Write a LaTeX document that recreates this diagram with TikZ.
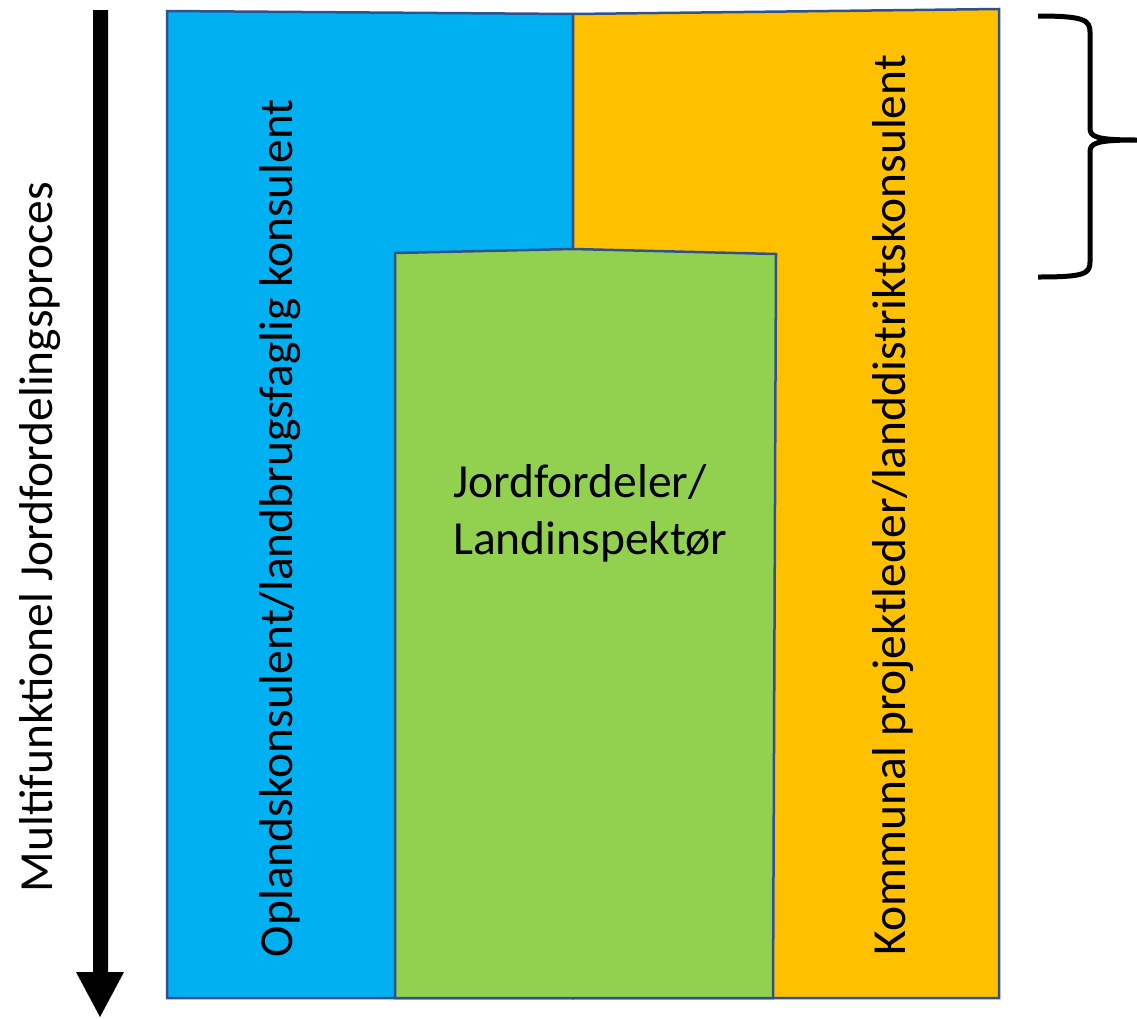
\documentclass[tikz,border=0pt]{standalone}
\usepackage{fontspec}
\setmainfont{Carlito}
\definecolor{cblue}{HTML}{00B0F0}
\definecolor{corange}{HTML}{FFC000}
\definecolor{cgreen}{HTML}{92D050}
\definecolor{cedge}{HTML}{2F528F}
\begin{document}
\begin{tikzpicture}[x=1pt,y=-1pt,
  region/.style={draw=cedge,line width=2.5pt,line join=miter},
  lbl/.style={font=\fontsize{47.5}{57}\selectfont,text=black,inner sep=0pt}]
\useasboundingbox (0,0) rectangle (1137,1018);
% regions
\path[region,fill=cblue] (167,11) -- (573,14) -- (573,998) -- (167,998) -- cycle;
\path[region,fill=corange] (573,14) -- (999,9) -- (999,998) -- (573,998) -- cycle;
\path[region,fill=cgreen] (395,253) -- (573,249) -- (776,254) -- (773,998) -- (395,998) -- cycle;
% process arrow
\fill[black] (93,10) -- (108,10) -- (108,972) -- (124,972) -- (100,1017) -- (76,972) -- (93,972) -- cycle;
% brace
\draw[line width=5pt,line cap=butt,line join=round]
  (1038,16) .. controls (1084,16) and (1090,20) .. (1090,32) -- (1090,128)
  .. controls (1090,137) and (1096,140) .. (1137,140)
  .. controls (1096,140) and (1090,143) .. (1090,152) -- (1090,262)
  .. controls (1090,274) and (1084,277) .. (1038,277);
% labels
\node[lbl,rotate=90] (proc) at (40,537) {Multifunktionel Jordfordelingsproces};
\node[lbl,rotate=90] (opl) at (280,528) {Oplandskonsulent/landbrugsfaglig konsulent};
\node[lbl,rotate=90] (kom) at (893,505) {Kommunal projektleder/landdistriktskonsulent};
\node[lbl,align=left,anchor=west] (jord) at (453,513) {Jordfordeler/\\Landinspektør};
\end{tikzpicture}
\end{document}
